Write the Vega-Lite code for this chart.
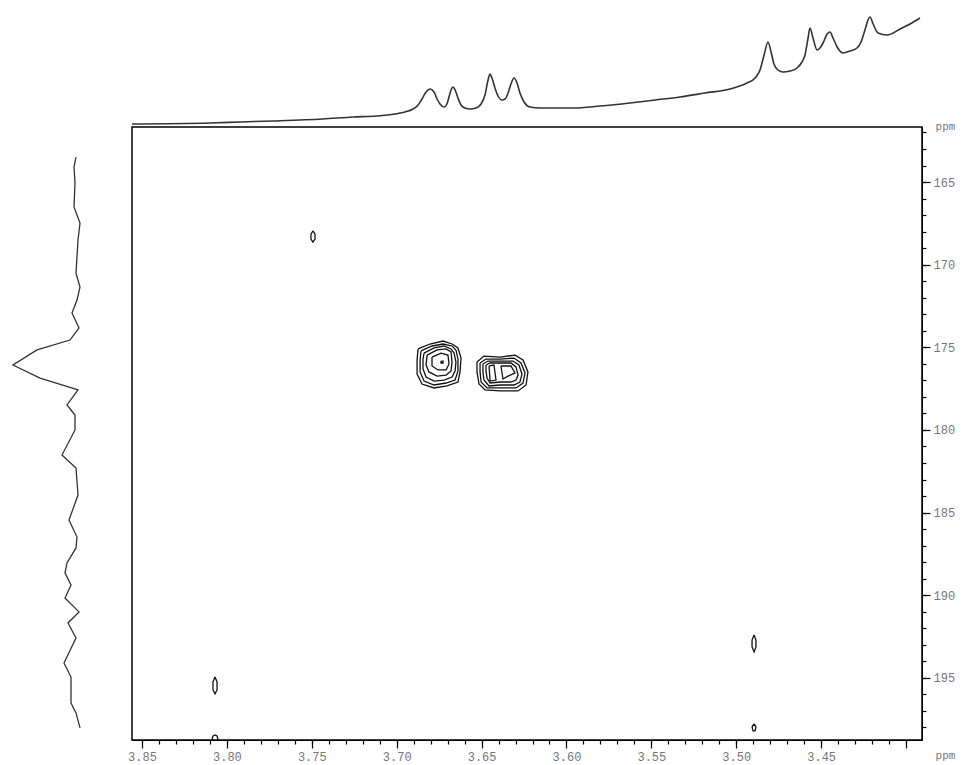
{
  "$schema": "https://vega.github.io/schema/vega-lite/v6.json",
  "width": 790,
  "height": 613,
  "autosize": {"type": "none"},
  "padding": {"left": 132, "top": 127, "right": 40, "bottom": 25},
  "background": "white",
  "config": {
    "view": {"stroke": "black", "strokeWidth": 1.5},
    "axis": {"labelFont": "Liberation Mono", "labelFontSize": 12, "labelColor": "#777", "tickColor": "black", "tickWidth": 1.2, "domainColor": "black", "grid": false, "titleFont": "Liberation Mono", "titleFontSize": 11, "titleColor": "#777", "titleFontWeight": "normal"}
  },
  "datasets": {
    "top": [
      {"h": 3.8559, "i": 0}, {"h": 3.8099, "i": 1}, {"h": 3.7923, "i": 2}, {"h": 3.7728, "i": 3}, {"h": 3.7434, "i": 5},
      {"h": 3.7257, "i": 7}, {"h": 3.7116, "i": 8}, {"h": 3.7010, "i": 10}, {"h": 3.6951, "i": 12}, {"h": 3.6904, "i": 15},
      {"h": 3.6874, "i": 19}, {"h": 3.6851, "i": 25}, {"h": 3.6827, "i": 32}, {"h": 3.6804, "i": 35}, {"h": 3.6780, "i": 32},
      {"h": 3.6762, "i": 25}, {"h": 3.6745, "i": 20}, {"h": 3.6721, "i": 17}, {"h": 3.6704, "i": 20}, {"h": 3.6692, "i": 27},
      {"h": 3.6680, "i": 34}, {"h": 3.6668, "i": 37}, {"h": 3.6656, "i": 34}, {"h": 3.6639, "i": 26}, {"h": 3.6621, "i": 19},
      {"h": 3.6598, "i": 16}, {"h": 3.6568, "i": 15}, {"h": 3.6533, "i": 16}, {"h": 3.6503, "i": 20}, {"h": 3.6480, "i": 29},
      {"h": 3.6462, "i": 44}, {"h": 3.6450, "i": 50}, {"h": 3.6439, "i": 46}, {"h": 3.6421, "i": 36}, {"h": 3.6403, "i": 28},
      {"h": 3.6380, "i": 24}, {"h": 3.6362, "i": 25}, {"h": 3.6344, "i": 31}, {"h": 3.6327, "i": 40}, {"h": 3.6309, "i": 46},
      {"h": 3.6291, "i": 41}, {"h": 3.6274, "i": 31}, {"h": 3.6250, "i": 22}, {"h": 3.6215, "i": 17}, {"h": 3.6156, "i": 16},
      {"h": 3.5961, "i": 16}, {"h": 3.5802, "i": 18}, {"h": 3.5626, "i": 21}, {"h": 3.5478, "i": 24}, {"h": 3.5331, "i": 27},
      {"h": 3.5184, "i": 31}, {"h": 3.5037, "i": 35}, {"h": 3.4937, "i": 41}, {"h": 3.4889, "i": 46}, {"h": 3.4860, "i": 54},
      {"h": 3.4836, "i": 69}, {"h": 3.4813, "i": 82}, {"h": 3.4795, "i": 72}, {"h": 3.4778, "i": 60}, {"h": 3.4754, "i": 54},
      {"h": 3.4725, "i": 52}, {"h": 3.4683, "i": 53}, {"h": 3.4642, "i": 56}, {"h": 3.4613, "i": 62}, {"h": 3.4595, "i": 69},
      {"h": 3.4577, "i": 86}, {"h": 3.4566, "i": 96}, {"h": 3.4548, "i": 86}, {"h": 3.4524, "i": 74}, {"h": 3.4507, "i": 76},
      {"h": 3.4489, "i": 81}, {"h": 3.4465, "i": 90}, {"h": 3.4448, "i": 92}, {"h": 3.4430, "i": 86}, {"h": 3.4406, "i": 77},
      {"h": 3.4371, "i": 71}, {"h": 3.4330, "i": 73}, {"h": 3.4289, "i": 76}, {"h": 3.4265, "i": 82}, {"h": 3.4242, "i": 94},
      {"h": 3.4224, "i": 104}, {"h": 3.4212, "i": 107}, {"h": 3.4194, "i": 100}, {"h": 3.4165, "i": 91}, {"h": 3.4112, "i": 89},
      {"h": 3.4035, "i": 95}, {"h": 3.3977, "i": 100}, {"h": 3.3918, "i": 106}
    ],
    "left": [
      {"c": 163.49, "j": 4}, {"c": 164.09, "j": 6}, {"c": 165.06, "j": 5}, {"c": 166.51, "j": 6}, {"c": 167.48, "j": 0},
      {"c": 168.51, "j": 2}, {"c": 170.51, "j": 4}, {"c": 171.35, "j": 0}, {"c": 172.14, "j": 3}, {"c": 172.92, "j": 8},
      {"c": 173.83, "j": 1}, {"c": 174.56, "j": 10}, {"c": 175.16, "j": 43}, {"c": 176.07, "j": 67}, {"c": 176.86, "j": 40},
      {"c": 177.58, "j": 2}, {"c": 178.49, "j": 13}, {"c": 179.10, "j": 5}, {"c": 180.00, "j": 5}, {"c": 181.52, "j": 18},
      {"c": 182.30, "j": 4}, {"c": 183.94, "j": 2}, {"c": 185.45, "j": 11}, {"c": 186.48, "j": 3}, {"c": 187.14, "j": 4},
      {"c": 188.05, "j": 13}, {"c": 188.65, "j": 15}, {"c": 189.38, "j": 9}, {"c": 190.17, "j": 15}, {"c": 191.01, "j": 1},
      {"c": 191.68, "j": 12}, {"c": 192.59, "j": 4}, {"c": 194.10, "j": 16}, {"c": 194.95, "j": 9}, {"c": 196.52, "j": 9},
      {"c": 197.12, "j": 4}, {"c": 198.03, "j": 0}
    ],
    "contours": [
      {"id": "L1", "o": 1, "h": 3.6874, "c": 175.10}, {"id": "L1", "o": 2, "h": 3.6804, "c": 174.80}, {"id": "L1", "o": 3, "h": 3.6727, "c": 174.62},
      {"id": "L1", "o": 4, "h": 3.6674, "c": 174.80}, {"id": "L1", "o": 5, "h": 3.6639, "c": 175.04}, {"id": "L1", "o": 6, "h": 3.6621, "c": 175.65},
      {"id": "L1", "o": 7, "h": 3.6627, "c": 176.49}, {"id": "L1", "o": 8, "h": 3.6639, "c": 177.10}, {"id": "L1", "o": 9, "h": 3.6704, "c": 177.34},
      {"id": "L1", "o": 10, "h": 3.6780, "c": 177.46}, {"id": "L1", "o": 11, "h": 3.6851, "c": 177.22}, {"id": "L1", "o": 12, "h": 3.6880, "c": 176.62},
      {"id": "L1", "o": 13, "h": 3.6880, "c": 175.77}, {"id": "L1", "o": 14, "h": 3.6874, "c": 175.10},

      {"id": "L2", "o": 1, "h": 3.6857, "c": 175.22}, {"id": "L2", "o": 2, "h": 3.6792, "c": 174.92}, {"id": "L2", "o": 3, "h": 3.6727, "c": 174.80},
      {"id": "L2", "o": 4, "h": 3.6674, "c": 174.92}, {"id": "L2", "o": 5, "h": 3.6651, "c": 175.16}, {"id": "L2", "o": 6, "h": 3.6639, "c": 175.71},
      {"id": "L2", "o": 7, "h": 3.6639, "c": 176.43}, {"id": "L2", "o": 8, "h": 3.6656, "c": 176.98}, {"id": "L2", "o": 9, "h": 3.6709, "c": 177.16},
      {"id": "L2", "o": 10, "h": 3.6780, "c": 177.28}, {"id": "L2", "o": 11, "h": 3.6839, "c": 177.04}, {"id": "L2", "o": 12, "h": 3.6862, "c": 176.49},
      {"id": "L2", "o": 13, "h": 3.6862, "c": 175.77}, {"id": "L2", "o": 14, "h": 3.6857, "c": 175.22},

      {"id": "L3", "o": 1, "h": 3.6839, "c": 175.35}, {"id": "L3", "o": 2, "h": 3.6780, "c": 175.04}, {"id": "L3", "o": 3, "h": 3.6721, "c": 174.92},
      {"id": "L3", "o": 4, "h": 3.6680, "c": 175.10}, {"id": "L3", "o": 5, "h": 3.6662, "c": 175.35}, {"id": "L3", "o": 6, "h": 3.6651, "c": 175.89},
      {"id": "L3", "o": 7, "h": 3.6656, "c": 176.43}, {"id": "L3", "o": 8, "h": 3.6674, "c": 176.80}, {"id": "L3", "o": 9, "h": 3.6721, "c": 176.98},
      {"id": "L3", "o": 10, "h": 3.6780, "c": 177.04}, {"id": "L3", "o": 11, "h": 3.6827, "c": 176.80}, {"id": "L3", "o": 12, "h": 3.6845, "c": 176.31},
      {"id": "L3", "o": 13, "h": 3.6845, "c": 175.71}, {"id": "L3", "o": 14, "h": 3.6839, "c": 175.35},

      {"id": "L4", "o": 1, "h": 3.6821, "c": 175.47}, {"id": "L4", "o": 2, "h": 3.6762, "c": 175.16}, {"id": "L4", "o": 3, "h": 3.6709, "c": 175.10},
      {"id": "L4", "o": 4, "h": 3.6680, "c": 175.28}, {"id": "L4", "o": 5, "h": 3.6674, "c": 175.89}, {"id": "L4", "o": 6, "h": 3.6680, "c": 176.43},
      {"id": "L4", "o": 7, "h": 3.6709, "c": 176.68}, {"id": "L4", "o": 8, "h": 3.6762, "c": 176.74}, {"id": "L4", "o": 9, "h": 3.6810, "c": 176.49},
      {"id": "L4", "o": 10, "h": 3.6827, "c": 176.07}, {"id": "L4", "o": 11, "h": 3.6821, "c": 175.47},

      {"id": "L5", "o": 1, "h": 3.6792, "c": 175.59}, {"id": "L5", "o": 2, "h": 3.6739, "c": 175.35}, {"id": "L5", "o": 3, "h": 3.6698, "c": 175.47},
      {"id": "L5", "o": 4, "h": 3.6692, "c": 176.01}, {"id": "L5", "o": 5, "h": 3.6709, "c": 176.37}, {"id": "L5", "o": 6, "h": 3.6757, "c": 176.37},
      {"id": "L5", "o": 7, "h": 3.6792, "c": 176.13}, {"id": "L5", "o": 8, "h": 3.6792, "c": 175.59},

      {"id": "L6", "o": 1, "h": 3.6739, "c": 175.83}, {"id": "L6", "o": 2, "h": 3.6727, "c": 175.83}, {"id": "L6", "o": 3, "h": 3.6727, "c": 175.95},
      {"id": "L6", "o": 4, "h": 3.6739, "c": 175.95}, {"id": "L6", "o": 5, "h": 3.6739, "c": 175.83},

      {"id": "R1", "o": 1, "h": 3.6527, "c": 175.89}, {"id": "R1", "o": 2, "h": 3.6486, "c": 175.53}, {"id": "R1", "o": 3, "h": 3.6391, "c": 175.59},
      {"id": "R1", "o": 4, "h": 3.6303, "c": 175.47}, {"id": "R1", "o": 5, "h": 3.6256, "c": 175.77}, {"id": "R1", "o": 6, "h": 3.6227, "c": 176.49},
      {"id": "R1", "o": 7, "h": 3.6238, "c": 177.28}, {"id": "R1", "o": 8, "h": 3.6285, "c": 177.64}, {"id": "R1", "o": 9, "h": 3.6391, "c": 177.64},
      {"id": "R1", "o": 10, "h": 3.6480, "c": 177.58}, {"id": "R1", "o": 11, "h": 3.6515, "c": 177.22}, {"id": "R1", "o": 12, "h": 3.6527, "c": 176.49},
      {"id": "R1", "o": 13, "h": 3.6527, "c": 175.89},

      {"id": "R2", "o": 1, "h": 3.6509, "c": 175.95}, {"id": "R2", "o": 2, "h": 3.6474, "c": 175.71}, {"id": "R2", "o": 3, "h": 3.6391, "c": 175.71},
      {"id": "R2", "o": 4, "h": 3.6309, "c": 175.65}, {"id": "R2", "o": 5, "h": 3.6268, "c": 175.95}, {"id": "R2", "o": 6, "h": 3.6244, "c": 176.55},
      {"id": "R2", "o": 7, "h": 3.6256, "c": 177.16}, {"id": "R2", "o": 8, "h": 3.6297, "c": 177.46}, {"id": "R2", "o": 9, "h": 3.6391, "c": 177.46},
      {"id": "R2", "o": 10, "h": 3.6468, "c": 177.46}, {"id": "R2", "o": 11, "h": 3.6503, "c": 177.10}, {"id": "R2", "o": 12, "h": 3.6509, "c": 176.49},
      {"id": "R2", "o": 13, "h": 3.6509, "c": 175.95},

      {"id": "R3", "o": 1, "h": 3.6492, "c": 176.01}, {"id": "R3", "o": 2, "h": 3.6462, "c": 175.83}, {"id": "R3", "o": 3, "h": 3.6391, "c": 175.83},
      {"id": "R3", "o": 4, "h": 3.6315, "c": 175.83}, {"id": "R3", "o": 5, "h": 3.6280, "c": 176.07}, {"id": "R3", "o": 6, "h": 3.6262, "c": 176.62},
      {"id": "R3", "o": 7, "h": 3.6274, "c": 177.10}, {"id": "R3", "o": 8, "h": 3.6309, "c": 177.28}, {"id": "R3", "o": 9, "h": 3.6391, "c": 177.28},
      {"id": "R3", "o": 10, "h": 3.6456, "c": 177.34}, {"id": "R3", "o": 11, "h": 3.6486, "c": 176.98}, {"id": "R3", "o": 12, "h": 3.6492, "c": 176.49},
      {"id": "R3", "o": 13, "h": 3.6492, "c": 176.01},

      {"id": "R4", "o": 1, "h": 3.6474, "c": 176.07}, {"id": "R4", "o": 2, "h": 3.6450, "c": 175.95}, {"id": "R4", "o": 3, "h": 3.6391, "c": 175.95},
      {"id": "R4", "o": 4, "h": 3.6327, "c": 175.95}, {"id": "R4", "o": 5, "h": 3.6297, "c": 176.19}, {"id": "R4", "o": 6, "h": 3.6285, "c": 176.68},
      {"id": "R4", "o": 7, "h": 3.6297, "c": 176.98}, {"id": "R4", "o": 8, "h": 3.6327, "c": 177.10}, {"id": "R4", "o": 9, "h": 3.6391, "c": 177.10},
      {"id": "R4", "o": 10, "h": 3.6450, "c": 177.16}, {"id": "R4", "o": 11, "h": 3.6468, "c": 176.86}, {"id": "R4", "o": 12, "h": 3.6474, "c": 176.43},
      {"id": "R4", "o": 13, "h": 3.6474, "c": 176.07},

      {"id": "R5", "o": 1, "h": 3.6456, "c": 176.13}, {"id": "R5", "o": 2, "h": 3.6427, "c": 176.07}, {"id": "R5", "o": 3, "h": 3.6415, "c": 176.98},
      {"id": "R5", "o": 4, "h": 3.6450, "c": 177.04}, {"id": "R5", "o": 5, "h": 3.6456, "c": 176.13},

      {"id": "R6", "o": 1, "h": 3.6386, "c": 176.13}, {"id": "R6", "o": 2, "h": 3.6327, "c": 176.13}, {"id": "R6", "o": 3, "h": 3.6303, "c": 176.55},
      {"id": "R6", "o": 4, "h": 3.6344, "c": 176.74}, {"id": "R6", "o": 5, "h": 3.6374, "c": 176.92}, {"id": "R6", "o": 6, "h": 3.6386, "c": 176.13},

      {"id": "S1", "o": 1, "h": 3.7493, "c": 167.96}, {"id": "S1", "o": 2, "h": 3.7481, "c": 168.15}, {"id": "S1", "o": 3, "h": 3.7481, "c": 168.45},
      {"id": "S1", "o": 4, "h": 3.7493, "c": 168.63}, {"id": "S1", "o": 5, "h": 3.7505, "c": 168.45}, {"id": "S1", "o": 6, "h": 3.7505, "c": 168.15},
      {"id": "S1", "o": 7, "h": 3.7493, "c": 167.96},

      {"id": "S2", "o": 1, "h": 3.8070, "c": 194.95}, {"id": "S2", "o": 2, "h": 3.8058, "c": 195.25}, {"id": "S2", "o": 3, "h": 3.8058, "c": 195.73},
      {"id": "S2", "o": 4, "h": 3.8070, "c": 195.97}, {"id": "S2", "o": 5, "h": 3.8082, "c": 195.73}, {"id": "S2", "o": 6, "h": 3.8082, "c": 195.25},
      {"id": "S2", "o": 7, "h": 3.8070, "c": 194.95},

      {"id": "S3", "o": 1, "h": 3.8088, "c": 198.76}, {"id": "S3", "o": 2, "h": 3.8082, "c": 198.51}, {"id": "S3", "o": 3, "h": 3.8070, "c": 198.45},
      {"id": "S3", "o": 4, "h": 3.8058, "c": 198.51}, {"id": "S3", "o": 5, "h": 3.8052, "c": 198.76},

      {"id": "S4", "o": 1, "h": 3.4895, "c": 192.40}, {"id": "S4", "o": 2, "h": 3.4884, "c": 192.71}, {"id": "S4", "o": 3, "h": 3.4884, "c": 193.13},
      {"id": "S4", "o": 4, "h": 3.4895, "c": 193.43}, {"id": "S4", "o": 5, "h": 3.4907, "c": 193.13}, {"id": "S4", "o": 6, "h": 3.4907, "c": 192.71},
      {"id": "S4", "o": 7, "h": 3.4895, "c": 192.40},

      {"id": "S5", "o": 1, "h": 3.4895, "c": 197.79}, {"id": "S5", "o": 2, "h": 3.4884, "c": 197.97}, {"id": "S5", "o": 3, "h": 3.4889, "c": 198.21},
      {"id": "S5", "o": 4, "h": 3.4901, "c": 198.21}, {"id": "S5", "o": 5, "h": 3.4907, "c": 197.97}, {"id": "S5", "o": 6, "h": 3.4895, "c": 197.79}
    ]
  },
  "layer": [
    {
      "data": {"name": "top"},
      "mark": {"type": "line", "color": "#333333", "strokeWidth": 1.6, "interpolate": "monotone", "clip": false},
      "encoding": {
        "x": {"field": "h", "type": "quantitative",
          "scale": {"domain": [3.3906, 3.8559], "reverse": true, "nice": false, "zero": false},
          "axis": {"orient": "bottom", "values": [3.40,3.41,3.42,3.43,3.44,3.45,3.46,3.47,3.48,3.49,3.50,3.51,3.52,3.53,3.54,3.55,3.56,3.57,3.58,3.59,3.60,3.61,3.62,3.63,3.64,3.65,3.66,3.67,3.68,3.69,3.70,3.71,3.72,3.73,3.74,3.75,3.76,3.77,3.78,3.79,3.80,3.81,3.82,3.83,3.84,3.85], "tickSize": 4, "labels": false, "domain": false, "title": null}},
        "y": {"field": "i", "type": "quantitative",
          "scale": {"domain": [0, 110], "range": [-3, -113], "nice": false, "zero": false},
          "axis": null}
      }
    },
    {
      "data": {"name": "left"},
      "mark": {"type": "line", "color": "#333333", "strokeWidth": 1.3, "clip": false},
      "encoding": {
        "x": {"field": "j", "type": "quantitative",
          "scale": {"domain": [0, 70], "range": [-52, -122], "nice": false, "zero": false},
          "axis": null},
        "y": {"field": "c", "type": "quantitative",
          "scale": {"domain": [161.67, 198.76], "reverse": true, "nice": false, "zero": false},
          "axis": {"orient": "right", "values": [162,163,164,165,166,167,168,169,170,171,172,173,174,175,176,177,178,179,180,181,182,183,184,185,186,187,188,189,190,191,192,193,194,195,196,197,198], "tickSize": 4, "labels": false, "domain": false, "title": null}},
        "order": {"field": "c", "type": "quantitative"}
      }
    },
    {
      "data": {"name": "contours"},
      "mark": {"type": "line", "color": "#111111", "strokeWidth": 1.3},
      "encoding": {
        "x": {"field": "h", "type": "quantitative",
          "scale": {"domain": [3.3906, 3.8559], "reverse": true, "nice": false, "zero": false},
          "axis": {"orient": "bottom", "values": [3.40,3.45,3.50,3.55,3.60,3.65,3.70,3.75,3.80,3.85], "tickSize": 8, "labelPadding": 3,
            "labelExpr": "datum.value < 3.405 ? '' : format(datum.value, '.2f')",
            "title": "ppm", "titleX": 813, "titleY": 15, "titleAlign": "center", "titleBaseline": "middle", "titleAnchor": null}},
        "y": {"field": "c", "type": "quantitative",
          "scale": {"domain": [161.67, 198.76], "reverse": true, "nice": false, "zero": false},
          "axis": {"orient": "right", "values": [165,170,175,180,185,190,195], "tickSize": 8, "labelPadding": 3,
            "title": "ppm", "titleAngle": 0, "titleX": 23, "titleY": -1, "titleAlign": "center", "titleBaseline": "middle", "titleAnchor": null}},
        "detail": {"field": "id", "type": "nominal"},
        "order": {"field": "o", "type": "quantitative"}
      }
    }
  ],
  "resolve": {"scale": {"x": "independent", "y": "independent"}}
}
